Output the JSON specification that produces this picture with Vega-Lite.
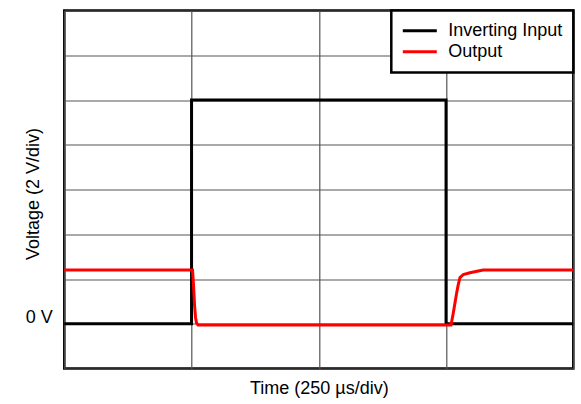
{
  "$schema": "https://vega.github.io/schema/vega-lite/v6.json",
  "autosize": "none",
  "padding": {"left": 64.3, "top": 10.5, "right": 7.7, "bottom": 35.5},
  "width": 509,
  "height": 358,
  "background": "white",
  "config": {
    "font": "Liberation Sans",
    "view": {"stroke": "black", "strokeWidth": 2.5},
    "axis": {"domain": false, "ticks": false, "tickSize": 0, "gridColor": "#555", "gridWidth": 1.2, "gridOpacity": 1},
    "legend": {"strokeWidth": 2.5}
  },
  "data": {
    "values": [
      {"series": "Inverting Input", "i": 1, "t": 0, "v": 0},
      {"series": "Inverting Input", "i": 2, "t": 250, "v": 0},
      {"series": "Inverting Input", "i": 3, "t": 250, "v": 10},
      {"series": "Inverting Input", "i": 4, "t": 750, "v": 10},
      {"series": "Inverting Input", "i": 5, "t": 750, "v": 0},
      {"series": "Inverting Input", "i": 6, "t": 1000, "v": 0},
      {"series": "Output", "i": 1, "t": 0, "v": 2.4},
      {"series": "Output", "i": 2, "t": 251.9, "v": 2.4},
      {"series": "Output", "i": 3, "t": 253.8, "v": 1.76},
      {"series": "Output", "i": 4, "t": 255.8, "v": 0.86},
      {"series": "Output", "i": 5, "t": 257.8, "v": 0.28},
      {"series": "Output", "i": 6, "t": 259.7, "v": 0.04},
      {"series": "Output", "i": 7, "t": 262.7, "v": -0.06},
      {"series": "Output", "i": 8, "t": 759.8, "v": -0.06},
      {"series": "Output", "i": 9, "t": 764.3, "v": 0.49},
      {"series": "Output", "i": 10, "t": 767.6, "v": 0.94},
      {"series": "Output", "i": 11, "t": 770.9, "v": 1.39},
      {"series": "Output", "i": 12, "t": 774.1, "v": 1.76},
      {"series": "Output", "i": 13, "t": 777.4, "v": 2.06},
      {"series": "Output", "i": 14, "t": 783.9, "v": 2.2},
      {"series": "Output", "i": 15, "t": 797.0, "v": 2.28},
      {"series": "Output", "i": 16, "t": 810.8, "v": 2.35},
      {"series": "Output", "i": 17, "t": 823.2, "v": 2.4},
      {"series": "Output", "i": 18, "t": 1000, "v": 2.4}
    ]
  },
  "mark": {"type": "line", "strokeWidth": 3, "interpolate": "linear"},
  "encoding": {
    "x": {
      "field": "t", "type": "quantitative",
      "scale": {"domain": [0, 1000], "nice": false, "zero": false},
      "axis": {"values": [0, 250, 500, 750, 1000], "labels": false, "title": "Time (250 µs/div)", "titleFontSize": 18, "titleFontWeight": "normal", "titleBaseline": "middle", "titleY": 20, "titleColor": "black"}
    },
    "y": {
      "field": "v", "type": "quantitative",
      "scale": {"domain": [-2, 14], "nice": false, "zero": false},
      "axis": {"values": [-2, 0, 2, 4, 6, 8, 10, 12, 14], "labelExpr": "datum.value == 0 ? '0 V' : ''", "labelFontSize": 18, "labelColor": "black", "labelPadding": 12, "labelBaseline": "alphabetic", "labelOffset": -1, "title": "Voltage (2 V/div)", "titleFontSize": 18, "titleFontWeight": "normal", "titleColor": "black", "titleBaseline": "middle", "titleX": -30.5, "titleY": 183}
    },
    "color": {
      "field": "series", "type": "nominal",
      "scale": {"domain": ["Inverting Input", "Output"], "range": ["black", "red"]},
      "legend": {"title": null, "orient": "top-right", "offset": 0, "padding": 10, "rowPadding": 0, "clipHeight": 20.7, "strokeColor": "black", "fillColor": "white", "symbolType": "stroke", "symbolSize": 1156, "symbolStrokeWidth": 3, "labelFontSize": 18, "labelColor": "black", "labelOffset": 10}
    },
    "order": {"field": "i", "type": "quantitative"}
  }
}
